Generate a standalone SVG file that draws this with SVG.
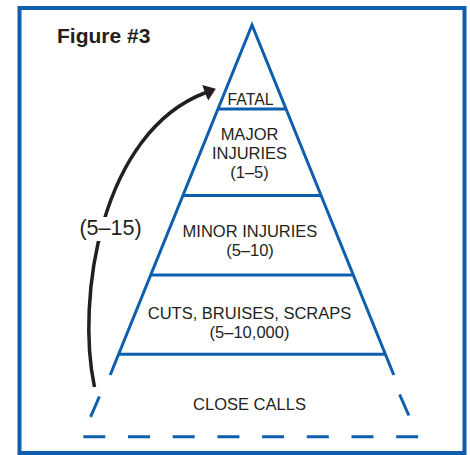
<svg xmlns="http://www.w3.org/2000/svg" width="470" height="455" viewBox="0 0 470 455">
  <style>
    .blue { stroke: #0d5fad; stroke-width: 3; fill: none; }
    .lbl { font-family: "Liberation Sans", Arial, sans-serif; font-size: 16.5px; fill: #231f20; text-anchor: middle; }
    .title { font-family: "Liberation Sans", Arial, sans-serif; font-size: 21px; font-weight: bold; fill: #231f20; }
    .arrow { stroke: #231f20; stroke-width: 3.5; fill: none; }
  </style>
  <defs>
    <marker id="head" markerUnits="userSpaceOnUse" markerWidth="12" markerHeight="17" viewBox="0 0 12 17" refX="1" refY="8.5" orient="auto">
      <path d="M0,0 L11.5,8.5 L0,17 Z" fill="#231f20"/>
    </marker>
  </defs>
  <rect x="0" y="0" width="470" height="455" fill="#ffffff"/>
  <g id="frame">
    <rect x="19.5" y="8" width="445" height="445" fill="none" stroke="#0d5fad" stroke-width="4"/>
  </g>
  <text class="title" x="57" y="42.5">Figure #3</text>
  <g id="pyramid-outline">
    <path class="blue" d="M110.2,375 L252,25 L393.8,375" stroke-linejoin="miter"/>
    <path class="blue" d="M99.4,396.5 L90.6,416.8"/>
    <path class="blue" d="M399.6,394.5 L408.8,415.5"/>
    <path class="blue" d="M83.3,436.7 L420,436.7" stroke-dasharray="22 22.7"/>
  </g>
  <g id="fatal">
    <line class="blue" x1="218" y1="109" x2="286" y2="109"/>
    <text class="lbl" x="250.5" y="104.5" style="font-size:15.8px">FATAL</text>
  </g>
  <g id="major-injuries">
    <line class="blue" x1="183.2" y1="195.5" x2="320.8" y2="195.5"/>
    <text class="lbl" x="249.5" y="139.5">MAJOR</text>
    <text class="lbl" x="249.5" y="158.5">INJURIES</text>
    <text class="lbl" x="249.5" y="177.5">(1–5)</text>
  </g>
  <g id="minor-injuries">
    <line class="blue" x1="150.8" y1="275" x2="353.2" y2="275"/>
    <text class="lbl" x="250" y="236.5">MINOR INJURIES</text>
    <text class="lbl" x="250" y="255.5">(5–10)</text>
  </g>
  <g id="cuts-bruises-scraps">
    <line class="blue" x1="118.8" y1="354.3" x2="385.2" y2="354.3"/>
    <text class="lbl" x="249.5" y="318.5">CUTS, BRUISES, SCRAPS</text>
    <text class="lbl" x="249.5" y="337.5">(5–10,000)</text>
  </g>
  <g id="close-calls">
    <text class="lbl" x="249.5" y="409.5">CLOSE CALLS</text>
  </g>
  <g id="connectors">
    <path class="arrow" d="M94.5,387 C76,300 100,132 206,92.5" marker-end="url(#head)"/>
    <rect x="76" y="217" width="70" height="24" fill="#ffffff"/>
    <text class="lbl" x="110.5" y="235" style="font-size:21.5px">(5–15)</text>
  </g>
</svg>
